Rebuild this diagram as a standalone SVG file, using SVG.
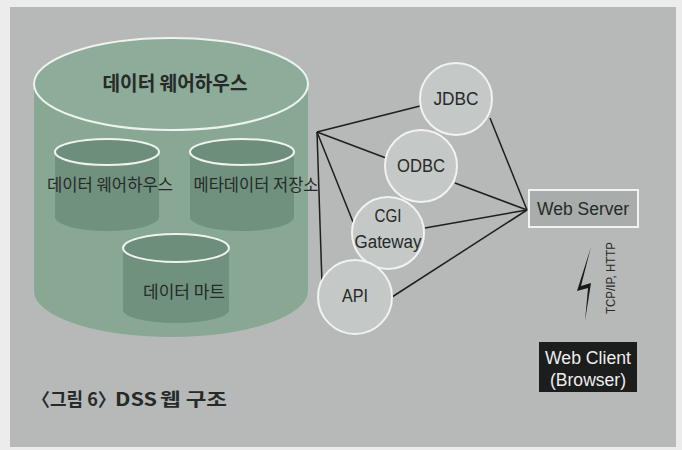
<svg xmlns="http://www.w3.org/2000/svg" width="682" height="450" viewBox="0 0 682 450">
  <defs>
    <style>
      .ko { font-family: "Noto Sans CJK KR", "Noto Sans", sans-serif; fill: #262a28; }
      .en { font-family: "Liberation Sans", Arial, sans-serif; fill: #262a28; font-size: 18px; }
      .cap { font-family: "Noto Sans CJK KR", "Noto Sans", sans-serif; fill: #262a28; font-size: 18px; font-weight: bold; }
      .cyl-top { stroke: #eef3ef; stroke-width: 2; }
      .proto { fill: #c4c8c6; stroke: #f1f2f1; stroke-width: 2; }
      .link { stroke: #1e1e1e; stroke-width: 1.5; fill: none; }
    </style>
  </defs>

  <!-- page and panel -->
  <rect x="0" y="0" width="682" height="450" fill="#ececec"/>
  <rect x="10" y="7" width="666" height="440" fill="#b6b9b8"/>

  <!-- data warehouse (outer cylinder) -->
  <g id="warehouse">
    <path d="M34,84 L34,291 A137,46 0 0 0 308,291 L308,84 Z" fill="#88a894"/>
    <ellipse class="cyl-top" cx="171" cy="84" rx="137" ry="46" fill="#8dac99"/>
    <text class="ko" x="175" y="91" font-size="20" font-weight="bold" text-anchor="middle" textLength="145" lengthAdjust="spacingAndGlyphs">데이터 웨어하우스</text>
  </g>

  <g id="dw-inner">
    <path d="M55,152 L55,217 A52,14 0 0 0 159,217 L159,152 Z" fill="#6f917e"/>
    <ellipse class="cyl-top" cx="107" cy="152" rx="52" ry="13" fill="#6c8e7b"/>
    <text class="ko" x="110" y="191" font-size="17" text-anchor="middle" textLength="126" lengthAdjust="spacingAndGlyphs">데이터 웨어하우스</text>
  </g>

  <g id="metadata">
    <path d="M190,152 L190,217 A52,14 0 0 0 294,217 L294,152 Z" fill="#6f917e"/>
    <ellipse class="cyl-top" cx="242" cy="152" rx="52" ry="13" fill="#6c8e7b"/>
    <text class="ko" x="256" y="191" font-size="17" text-anchor="middle" textLength="125" lengthAdjust="spacingAndGlyphs">메타데이터 저장소</text>
  </g>

  <g id="datamart">
    <path d="M123,248 L123,310 A53,13 0 0 0 229,310 L229,248 Z" fill="#6f917e"/>
    <ellipse class="cyl-top" cx="176" cy="248" rx="53" ry="14" fill="#6c8e7b"/>
    <text class="ko" x="184" y="298" font-size="17" text-anchor="middle" textLength="82" lengthAdjust="spacingAndGlyphs">데이터 마트</text>
  </g>

  <!-- connectors -->
  <g id="connectors">
    <line class="link" x1="317" y1="132" x2="420" y2="106"/>
    <line class="link" x1="317" y1="132" x2="386" y2="158"/>
    <line class="link" x1="317" y1="132" x2="353" y2="222"/>
    <line class="link" x1="317" y1="132" x2="322" y2="284"/>
    <line class="link" x1="490" y1="118" x2="527" y2="210"/>
    <line class="link" x1="455" y1="183" x2="527" y2="210"/>
    <line class="link" x1="425" y1="228" x2="527" y2="210"/>
    <line class="link" x1="392" y1="297" x2="527" y2="210"/>
  </g>

  <!-- access interfaces -->
  <g id="jdbc">
    <circle class="proto" cx="456" cy="99" r="36"/>
    <text class="en" x="456" y="105" text-anchor="middle" textLength="45" lengthAdjust="spacingAndGlyphs">JDBC</text>
  </g>
  <g id="odbc">
    <circle class="proto" cx="421" cy="166" r="36"/>
    <text class="en" x="421" y="172" text-anchor="middle" textLength="48" lengthAdjust="spacingAndGlyphs">ODBC</text>
  </g>
  <g id="cgi">
    <circle class="proto" cx="388" cy="233" r="36"/>
    <text class="en" x="388" y="222" text-anchor="middle" textLength="27" lengthAdjust="spacingAndGlyphs">CGI</text>
    <text class="en" x="388" y="248" text-anchor="middle" textLength="67" lengthAdjust="spacingAndGlyphs">Gateway</text>
  </g>
  <g id="api">
    <circle class="proto" cx="355" cy="297" r="37"/>
    <text class="en" x="355" y="302" text-anchor="middle" textLength="26" lengthAdjust="spacingAndGlyphs">API</text>
  </g>

  <!-- web server -->
  <g id="web-server">
    <rect x="529" y="190" width="109" height="37" fill="#a8acaa" stroke="#f1f2f1" stroke-width="2"/>
    <text class="en" x="583" y="215" text-anchor="middle" textLength="92" lengthAdjust="spacingAndGlyphs">Web Server</text>
  </g>

  <!-- network link -->
  <g id="network">
    <path d="M591,247 L577,291 L588,288 L585,321 L591,283 L581,286 Z" fill="#1a1a1a"/>
    <text class="en" x="0" y="0" style="font-size:12px" text-anchor="middle" textLength="72" lengthAdjust="spacingAndGlyphs" transform="translate(615,278) rotate(-90)">TCP/IP, HTTP</text>
  </g>

  <!-- web client -->
  <g id="web-client">
    <rect x="539" y="342" width="98" height="50" fill="#1c1d1d"/>
    <text class="en" x="588" y="364" text-anchor="middle" textLength="86" lengthAdjust="spacingAndGlyphs" style="fill:#eeeeee">Web Client</text>
    <text class="en" x="588" y="386" text-anchor="middle" textLength="76" lengthAdjust="spacingAndGlyphs" style="fill:#eeeeee">(Browser)</text>
  </g>

  <!-- caption: set in three runs so the full-width brackets stay tight -->
  <g id="caption">
    <text class="cap" x="32" y="406">〈그림 6〉</text>
    <text class="cap" x="115" y="406" textLength="42" lengthAdjust="spacingAndGlyphs">DSS</text>
    <text class="cap" x="160" y="406" textLength="67" lengthAdjust="spacingAndGlyphs">웹 구조</text>
  </g>
</svg>
